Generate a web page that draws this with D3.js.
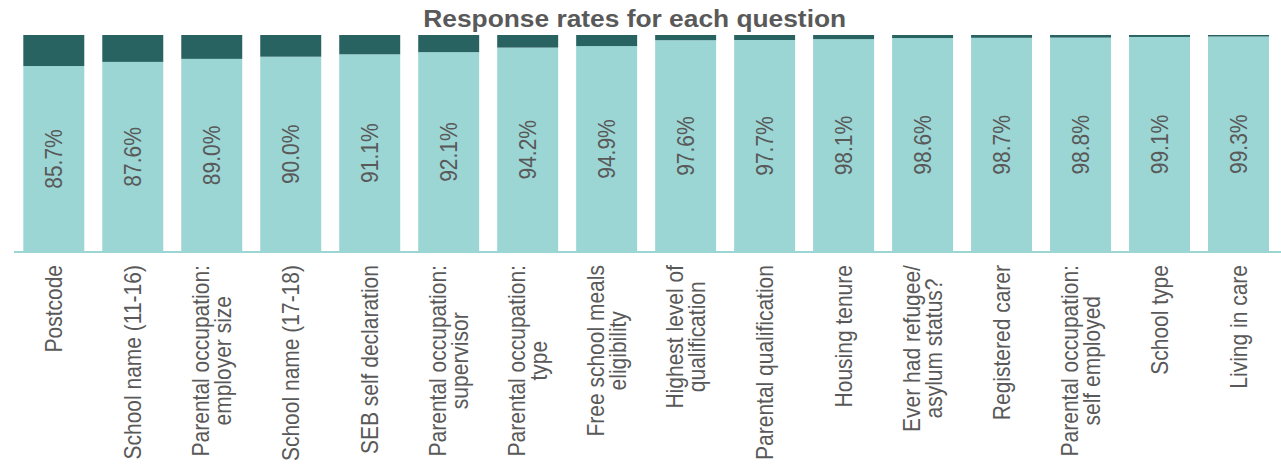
<!DOCTYPE html>
<html>
<head>
<meta charset="utf-8">
<script src="https://cdn.jsdelivr.net/npm/d3@7"></script>
<style>
  html, body { margin: 0; padding: 0; background: #fff; }
  svg { display: block; }
  text { font-family: "Liberation Sans", Arial, sans-serif; }
</style>
</head>
<body>
<svg id="chart" width="1281" height="466"></svg>
<script>
const title = "Response rates for each question";
const categories = [
  "Postcode",
  "School name (11-16)",
  "Parental occupation:|employer size",
  "School name (17-18)",
  "SEB self declaration",
  "Parental occupation:|supervisor",
  "Parental occupation:|type",
  "Free school meals|eligibility",
  "Highest level of|qualification",
  "Parental qualification",
  "Housing tenure",
  "Ever had refugee/|asylum status?",
  "Registered carer",
  "Parental occupation:|self employed",
  "School type",
  "Living in care"
];
const responded = [85.7, 87.6, 89.0, 90.0, 91.1, 92.1, 94.2, 94.9, 97.6, 97.7, 98.1, 98.6, 98.7, 98.8, 99.1, 99.3];
const notResponded = responded.map(v => +(100 - v).toFixed(1));
const seriesKeys = ["responded", "notResponded"];

const W = 1281, H = 466;
const SX = 1.145; // horizontal stretch of text
const colors = { responded: "#9BD6D4", notResponded: "#286361" };
const textColor = "#595959";

const svg = d3.select("#chart");

const x = d3.scaleBand()
  .domain(d3.range(categories.length))
  .range([14.3, 1278])
  .paddingInner(0.228)
  .paddingOuter(0.114);

const y = d3.scaleLinear().domain([0, 100]).range([252, 35]);

const rows = categories.map((c, i) => ({ i, responded: responded[i], notResponded: notResponded[i] }));
const stack = d3.stack().keys(seriesKeys)(rows);

svg.append("g").selectAll("g")
  .data(stack)
  .join("g")
  .attr("fill", d => colors[d.key])
  .selectAll("rect")
  .data(d => d)
  .join("rect")
  .attr("x", d => x(d.data.i))
  .attr("width", x.bandwidth())
  .attr("y", d => y(Math.min(d[1], 100)))
  .attr("height", d => y(d[0]) - y(Math.min(d[1], 100)));

// axis line
svg.append("line")
  .attr("x1", 14).attr("x2", W)
  .attr("y1", y(0)).attr("y2", y(0))
  .attr("stroke", "#9BD6D4")
  .attr("stroke-width", 2);

// value labels
svg.append("g").selectAll("text")
  .data(rows)
  .join("text")
  .attr("transform", d => `translate(${x(d.i) + x.bandwidth() / 2},${(y(0) + y(d.responded)) / 2}) scale(${SX},1) rotate(-90)`)
  .attr("text-anchor", "middle")
  .attr("dy", "0.35em")
  .attr("font-size", 21)
  .attr("fill", textColor)
  .text(d => d.responded.toFixed(1) + "%");

// category labels
const labelTop = 265;
const pitch = 22 / SX;
const lg = svg.append("g");
categories.forEach((c, i) => {
  const lines = c.split("|");
  const n = lines.length;
  const cx = x(i) + x.bandwidth() / 2;
  const t = lg.append("text")
    .attr("font-size", 21)
    .attr("fill", textColor)
    .attr("text-anchor", "middle");
  const spans = lines.map((ln, k) => t.append("tspan")
    .attr("x", 0)
    .attr("y", (k - (n - 1) / 2) * pitch)
    .attr("dy", "0.35em")
    .text(ln));
  const maxLen = d3.max(spans, s => s.node().getComputedTextLength());
  t.attr("transform", `translate(${cx},${labelTop + maxLen / 2}) scale(${SX},1) rotate(-90)`);
});

// title
svg.append("text")
  .attr("transform", `translate(634.7,26.7) scale(${SX},1)`)
  .attr("text-anchor", "middle")
  .attr("font-size", 23)
  .attr("font-weight", "bold")
  .attr("fill", textColor)
  .text(title);
</script>
</body>
</html>
